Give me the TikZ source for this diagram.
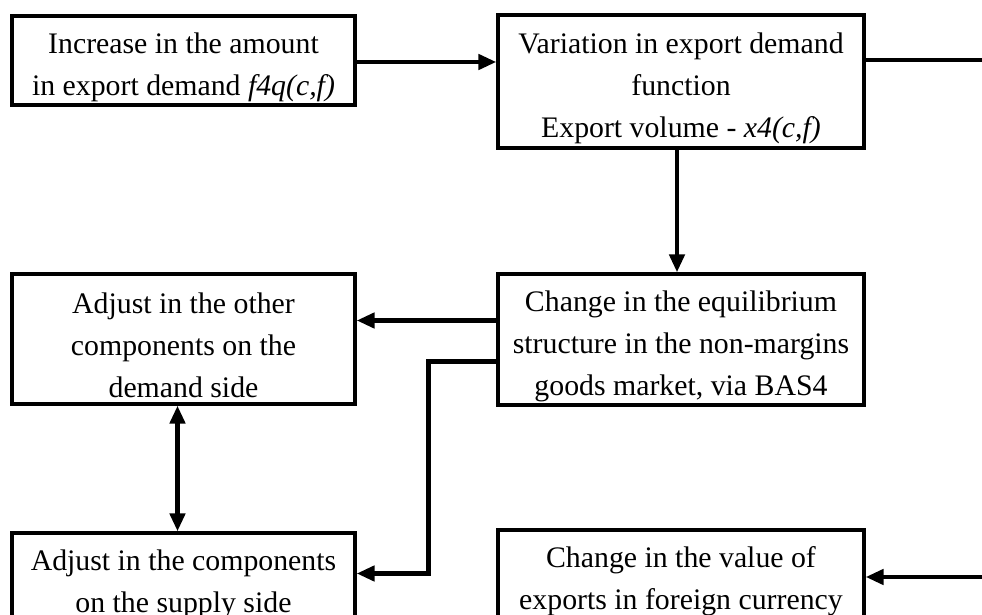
\documentclass[tikz,border=0pt]{standalone}
\usepackage{fontspec}
\setmainfont{Liberation Serif}
\usetikzlibrary{arrows.meta,positioning,calc}
\tikzset{
	stage/.style={draw, line width=1.6pt, inner sep=0pt, align=center,
		font=\fontsize{14.9}{21}\selectfont},
	narrow/.style={minimum width=171.5pt},
	wide/.style={minimum width=183pt},
	flow/.style={line width=2.3pt, -{Triangle[length=9pt,width=7.5pt]}},
	both/.style={line width=2.3pt, {Triangle[length=9pt,width=7.5pt]}-{Triangle[length=9pt,width=7.5pt]}},
	plain/.style={line width=2.3pt}
}
% taller first line, pushes the text a little lower in its box
\newcommand{\lift}{\rule{0pt}{17pt}}

\begin{document}
\begin{tikzpicture}[x=0.5pt,y=-0.5pt]
	\fill[white] (0,0) rectangle (982,615);
	\clip (0,0) rectangle (982,615);
	\useasboundingbox (0,0) rectangle (982,615);
	% boxes
	\node[stage, narrow, minimum height=44.5pt] (incr) at (183.5,60.5) {\lift Increase in the amount\\ in export demand \textit{f4q(c,f)}};
	\node[stage, wide, minimum height=66.5pt] (vari) at (681,81.5) {\lift Variation in export demand\\ function\\ Export volume - \textit{x4(c,f)}};
	\node[stage, narrow, minimum height=65pt] (dmnd) at (183.5,339) {\lift Adjust in the other\\ components on the\\ demand side};
	\node[stage, wide, minimum height=65.5pt] (equi) at (681,339.5) {\lift Change in the equilibrium\\ structure in the non-margins\\ goods market, via BAS4};
	\node[stage, narrow, minimum height=44.5pt] (supp) at (183.5,577.5) {\lift Adjust in the components\\ on the supply side};
	\node[stage, wide, minimum height=44.5pt] (valu) at (681,574.5) {\lift Change in the value of\\ exports in foreign currency};
	% connector end points
	\coordinate (incrout) at ($(incr.east)+(0,1.5)$);
	\coordinate (equiup) at ($(equi.west)+(0,-19)$);
	\coordinate (equidown) at ($(equi.west)+(0,22)$);
	\coordinate (rimtop) at (982,60);
	\coordinate (rimbot) at (982,577);
	% connectors
	\draw[flow] (incrout) -- (incrout -| vari.west);
	\draw[plain] (rimtop -| vari.east) -- (rimtop);
	\draw[flow] ($(vari.south)+(-4,0)$) -- ($(equi.north)+(-4,0)$);
	\draw[flow] (equiup) -- (equiup -| dmnd.east);
	\draw[flow] (equidown) -- ++(-68,0) |- ($(supp.east)+(0,-4)$);
	\draw[both] ($(dmnd.south)+(-6,0)$) -- ($(supp.north)+(-6,0)$);
	\draw[flow] (rimbot) -- (rimbot -| valu.east);
\end{tikzpicture}
\end{document}
